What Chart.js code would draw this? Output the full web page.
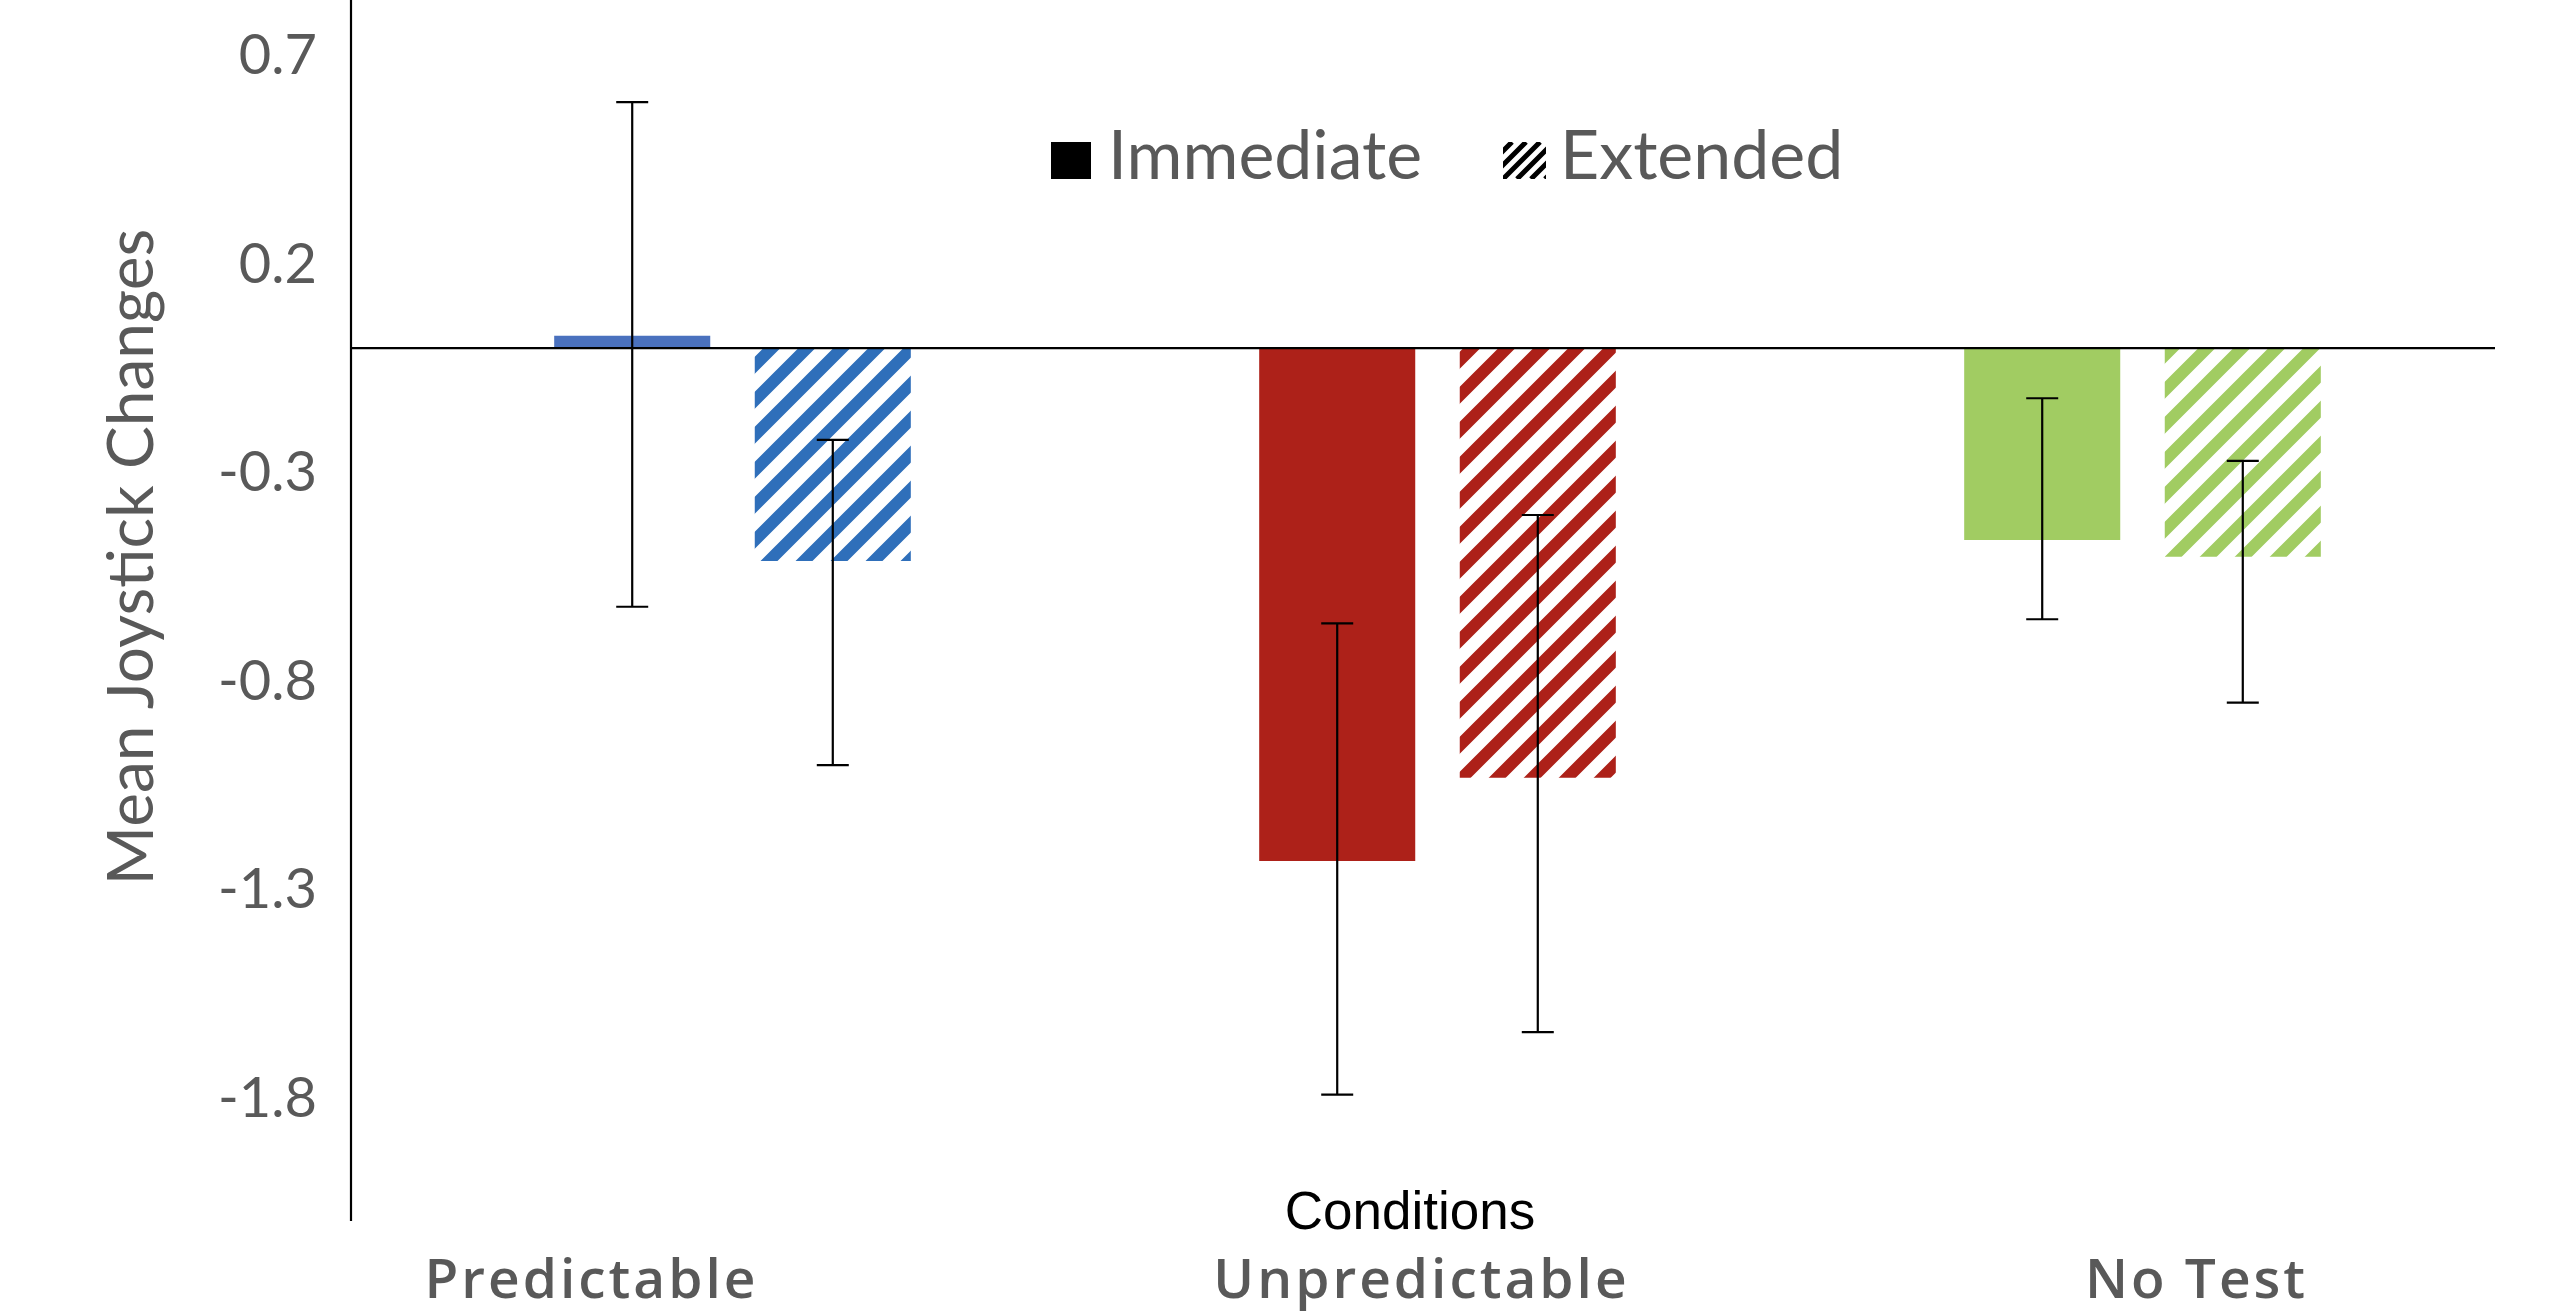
<!DOCTYPE html>
<html>
<head>
<meta charset="utf-8">
<script src="https://cdn.jsdelivr.net/npm/chart.js@4.4.1/dist/chart.umd.min.js"></script>
<style>
  html, body { margin: 0; padding: 0; background: #ffffff; }
  canvas { display: block; }
</style>
</head>
<body>
<canvas id="chart" width="2570" height="1312" style="width:2570px;height:1312px"></canvas>
<script>
// Mean joystick changes per condition, immediate vs. extended test
const categories = ['Predictable', 'Unpredictable', 'No Test'];
const seriesNames = ['Immediate', 'Extended'];
const immediate = [0.03, -1.23, -0.46];
const extended = [-0.51, -1.03, -0.50];
const immediateHigh = [0.59, -0.66, -0.12];
const immediateLow = [-0.62, -1.79, -0.65];
const extendedHigh = [-0.22, -0.40, -0.27];
const extendedLow = [-1.00, -1.64, -0.85];
const yTicks = [0.7, 0.2, -0.3, -0.8, -1.3, -1.8];
const yTitle = 'Mean Joystick Changes';
const xTitle = 'Conditions';

const solidColors = ['#4A71BE', '#AD2119', '#A1CC62'];
const hatchColors = ['#2F6FBA', '#AD2119', '#A1CC62'];
const GRAY = '#595959';

// diagonal "/" stripe fill, seamless when tiled
function hatch(color, period, width) {
  const c = document.createElement('canvas');
  c.width = period; c.height = period;
  const g = c.getContext('2d');
  g.strokeStyle = color;
  g.lineWidth = width;
  g.beginPath();
  for (let k = -2; k <= 2; k++) {
    g.moveTo(k * period - period, 2 * period);
    g.lineTo(k * period + 2 * period, -period);
  }
  g.stroke();
  return g.createPattern(c, 'repeat');
}

const AXIS_X = 351;

const axisLines = {
  id: 'axisLines',
  afterDatasetsDraw(chart) {
    const { ctx, chartArea } = chart;
    const y = chart.scales.y;
    const y0 = y.getPixelForValue(0);
    ctx.save();
    ctx.strokeStyle = '#000';
    ctx.lineWidth = 2.2;
    ctx.beginPath();
    ctx.moveTo(AXIS_X, chartArea.top);
    ctx.lineTo(AXIS_X, chartArea.bottom);
    ctx.moveTo(AXIS_X, y0);
    ctx.lineTo(chartArea.right, y0);
    ctx.stroke();
    ctx.restore();
  }
};

const errorBars = {
  id: 'errorBars',
  afterDatasetsDraw(chart) {
    const { ctx } = chart;
    const y = chart.scales.y;
    ctx.save();
    ctx.strokeStyle = '#000';
    ctx.lineWidth = 2.2;
    chart.data.datasets.forEach((ds, di) => {
      chart.getDatasetMeta(di).data.forEach((bar, i) => {
        const x = bar.x;
        const top = y.getPixelForValue(ds.errHigh[i]);
        const bot = y.getPixelForValue(ds.errLow[i]);
        const cap = 16;
        ctx.beginPath();
        ctx.moveTo(x, top); ctx.lineTo(x, bot);
        ctx.moveTo(x - cap, top); ctx.lineTo(x + cap, top);
        ctx.moveTo(x - cap, bot); ctx.lineTo(x + cap, bot);
        ctx.stroke();
      });
    });
    ctx.restore();
  }
};

const labels = {
  id: 'labels',
  afterDraw(chart) {
    const { ctx } = chart;
    const x = chart.scales.x;
    ctx.save();

    // y axis title
    ctx.fillStyle = GRAY;
    ctx.font = '64px Lato';
    ctx.textAlign = 'center';
    ctx.textBaseline = 'alphabetic';
    ctx.save();
    ctx.translate(153, 557);
    ctx.rotate(-Math.PI / 2);
    ctx.fillText(yTitle, 0, 0);
    ctx.restore();

    // category names
    const shift = [-141, -16, 54];
    ctx.font = '600 55px "Open Sans"';
    ctx.letterSpacing = '3px';
    categories.forEach((c, i) => {
      ctx.fillText(c, x.getPixelForValue(i) + shift[i], 1298);
    });
    ctx.letterSpacing = '0px';

    // x axis title
    ctx.fillStyle = '#000';
    ctx.font = '53px "Liberation Sans"';
    ctx.fillText(xTitle, 1410, 1229);

    // legend
    ctx.textAlign = 'left';
    ctx.fillStyle = '#000';
    ctx.fillRect(1051, 142, 40, 37);
    ctx.fillStyle = GRAY;
    ctx.font = '68px Lato';
    ctx.fillText(seriesNames[0], 1108, 179);

    ctx.save();
    ctx.beginPath();
    ctx.rect(1503, 142, 43, 37);
    ctx.clip();
    ctx.strokeStyle = '#000';
    ctx.lineWidth = 5;
    ctx.beginPath();
    for (let k = -4; k <= 6; k++) {
      const x0 = 1503 + k * 14;
      ctx.moveTo(x0, 179);
      ctx.lineTo(x0 + 37, 142);
    }
    ctx.stroke();
    ctx.restore();

    ctx.fillStyle = GRAY;
    ctx.fillText(seriesNames[1], 1560, 179);
    ctx.restore();
  }
};

const ctx = document.getElementById('chart').getContext('2d');
new Chart(ctx, {
  type: 'bar',
  data: {
    labels: categories,
    datasets: [
      {
        label: seriesNames[0],
        data: immediate,
        backgroundColor: solidColors,
        borderWidth: 0,
        errHigh: immediateHigh,
        errLow: immediateLow
      },
      {
        label: seriesNames[1],
        data: extended,
        backgroundColor: hatchColors.map(c => hatch(c, 35, 12)),
        borderWidth: 0,
        errHigh: extendedHigh,
        errLow: extendedLow
      }
    ]
  },
  options: {
    responsive: false,
    animation: false,
    layout: { padding: { left: 0, top: 0, right: 75, bottom: 91 } },
    datasets: { bar: { categoryPercentage: 0.569, barPercentage: 0.778 } },
    plugins: { legend: { display: false }, tooltip: { enabled: false } },
    scales: {
      x: { display: false, offset: true },
      y: {
        min: -2.093,
        max: 0.835,
        afterFit(s) {
          s.width = 380;
          s.paddingTop = 0;
          s.paddingBottom = 0;
        },
        afterBuildTicks(s) { s.ticks = yTicks.map(v => ({ value: v })); },
        grid: { display: false, drawTicks: false },
        border: { display: false },
        ticks: {
          padding: 63,
          color: GRAY,
          font: { family: 'Lato', size: 56 },
          callback: v => Number(v).toFixed(1)
        }
      }
    }
  },
  plugins: [axisLines, errorBars, labels]
});
</script>
</body>
</html>
